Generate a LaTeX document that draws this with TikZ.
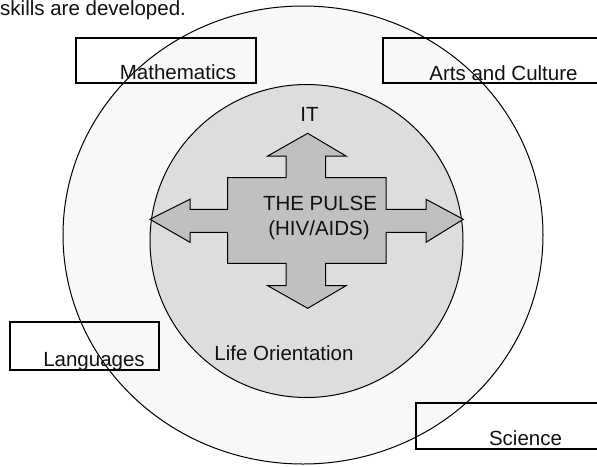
\documentclass[tikz,border=0pt]{standalone}
\usepackage{fontspec}
\setmainfont{Liberation Sans}
\usetikzlibrary{shapes.geometric}
\definecolor{outerfill}{HTML}{F8F8F8}
\definecolor{innerfill}{HTML}{DDDDDD}
\definecolor{crossfill}{HTML}{C0C0C0}
\definecolor{ink}{HTML}{111111}
\begin{document}
\begin{tikzpicture}[x=1pt,y=-1pt,
  lbl/.style={font=\fontsize{20.5}{24}\selectfont, text=ink, inner sep=0pt, anchor=base},
  areabox/.style={draw=black, line width=1.3pt, fill=none, rectangle, inner sep=0pt},
  ring/.style={draw=black, line width=1pt}]
\useasboundingbox (0,0) rectangle (597,466);
\clip (0,0) rectangle (597,466);
\fill[white] (0,0) rectangle (597,466);
% circles
\node[ring, fill=outerfill, ellipse, minimum width=480pt, minimum height=458pt, inner sep=0pt] (outer) at (303,235) {};
\node[ring, fill=innerfill, circle, minimum size=313pt, inner sep=0pt] (inner) at (306.5,241) {};
% cross arrow
\coordinate (pulse) at (307,220);
\draw[black, line width=1pt, fill=crossfill, line join=miter]
  (307.7,133.3) -- (346,156) -- (325.7,156) -- (325.7,177.7) -- (386,177.7)
  -- (386,209.3) -- (426,209.3) -- (426,199.3) -- (463.3,219.3) -- (426,242.3) -- (426,232.3) -- (386,232.3)
  -- (386,263.3) -- (325.7,263.3) -- (325.7,285.7) -- (346,285.7) -- (307.7,308.3) -- (267.7,285.7) -- (286,285.7)
  -- (286,263.3) -- (227.7,263.3) -- (227.7,232.3) -- (190,232.3) -- (190,242.3) -- (150,219.3) -- (190,199.3)
  -- (190,209.3) -- (227.7,209.3) -- (227.7,177.7) -- (286,177.7) -- (286,156) -- (267.7,156) -- cycle;
% texts
\node[lbl, anchor=base west] (intro) at (0,15) {skills are developed.};
\node[lbl] (it) at (309.5,121.7) {IT};
\node[lbl] (pulse1) at (320,210.7) {THE PULSE};
\node[lbl] (pulse2) at (319,235) {(HIV/AIDS)};
\node[lbl] (life) at (284,360) {Life Orientation};
% boxes
\node[areabox, minimum width=180pt, minimum height=45pt] (mathbox) at (166,60.5) {};
\node[areabox, minimum width=217pt, minimum height=45pt] (artsbox) at (491.5,60.5) {};
\node[areabox, minimum width=149pt, minimum height=48pt] (langbox) at (84.5,346) {};
\node[areabox, minimum width=184pt, minimum height=46pt] (scibox) at (508,426) {};
\node[lbl] (math) at (178,79) {Mathematics};
\node[lbl] (arts) at (503.5,80) {Arts and Culture};
\node[lbl] (lang) at (94,366) {Languages};
\node[lbl] (sci) at (525.5,445) {Science};
\end{tikzpicture}
\end{document}
